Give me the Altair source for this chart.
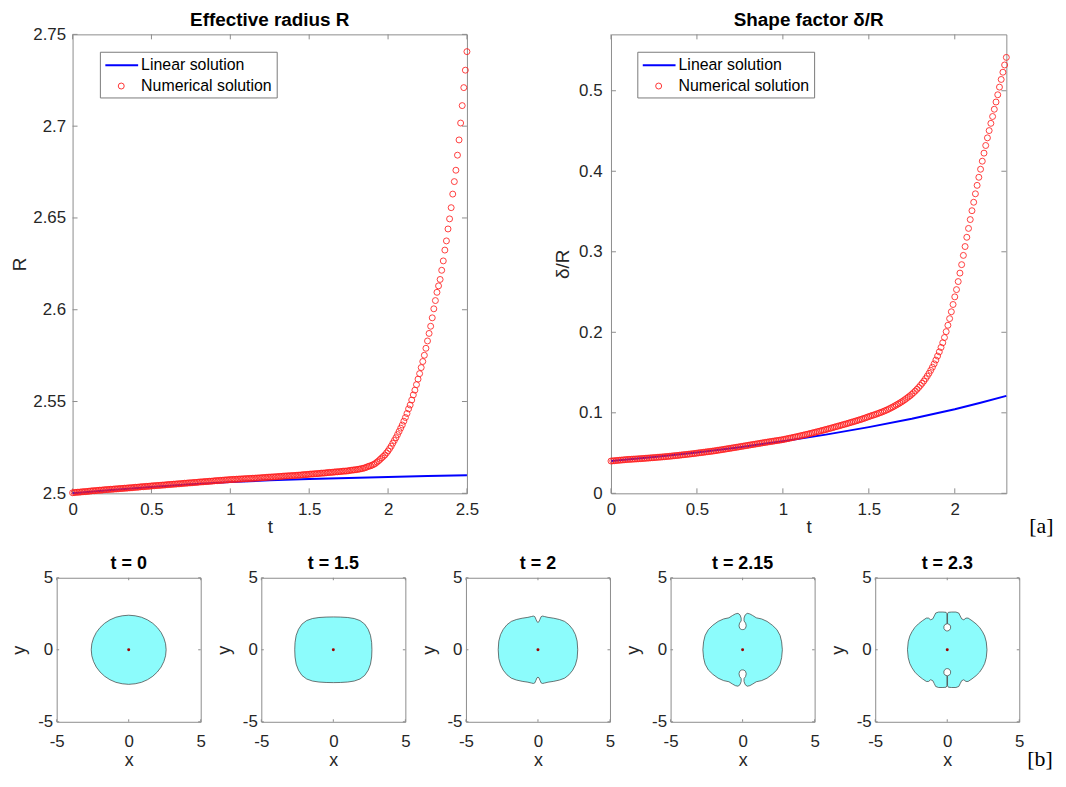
import altair as alt
import pandas as pd

FONT = "Liberation Sans"
SERIF = "Liberation Serif"
FRAME = "#8c8c8c"
TXT = "#262626"
BLUE = "#0000ff"
RED = "#ff1f1f"
CYAN = "#8cfcfc"

# ---------------- data: effective radius R (t step 0.01, 0 .. 2.5) ----------------
R_NUM = [
    2.5003, 2.5004, 2.5005, 2.5006, 2.5006, 2.5007, 2.5008, 2.5009, 2.5009, 2.5010,
    2.5011, 2.5012, 2.5013, 2.5014, 2.5014, 2.5015, 2.5016, 2.5017, 2.5017, 2.5018,
    2.5019, 2.5020, 2.5020, 2.5021, 2.5022, 2.5022, 2.5023, 2.5024, 2.5024, 2.5025,
    2.5026, 2.5026, 2.5027, 2.5028, 2.5028, 2.5029, 2.5030, 2.5030, 2.5031, 2.5032,
    2.5033, 2.5033, 2.5034, 2.5035, 2.5036, 2.5036, 2.5037, 2.5038, 2.5038, 2.5039,
    2.5040, 2.5041, 2.5041, 2.5042, 2.5043, 2.5043, 2.5044, 2.5045, 2.5045, 2.5046,
    2.5047, 2.5048, 2.5048, 2.5049, 2.5050, 2.5050, 2.5051, 2.5052, 2.5052, 2.5053,
    2.5054, 2.5055, 2.5055, 2.5056, 2.5057, 2.5057, 2.5058, 2.5059, 2.5059, 2.5060,
    2.5061, 2.5062, 2.5062, 2.5063, 2.5064, 2.5064, 2.5065, 2.5066, 2.5066, 2.5067,
    2.5068, 2.5069, 2.5069, 2.5070, 2.5071, 2.5071, 2.5072, 2.5073, 2.5073, 2.5074,
    2.5075, 2.5075, 2.5076, 2.5076, 2.5077, 2.5077, 2.5078, 2.5078, 2.5079, 2.5079,
    2.5080, 2.5080, 2.5081, 2.5081, 2.5082, 2.5082, 2.5083, 2.5083, 2.5084, 2.5084,
    2.5085, 2.5086, 2.5086, 2.5087, 2.5088, 2.5088, 2.5089, 2.5089, 2.5090, 2.5090,
    2.5091, 2.5092, 2.5092, 2.5093, 2.5094, 2.5094, 2.5095, 2.5095, 2.5096, 2.5096,
    2.5097, 2.5097, 2.5098, 2.5099, 2.5099, 2.5100, 2.5101, 2.5102, 2.5102, 2.5103,
    2.5104, 2.5105, 2.5105, 2.5106, 2.5107, 2.5107, 2.5108, 2.5109, 2.5110, 2.5110,
    2.5111, 2.5112, 2.5113, 2.5114, 2.5114, 2.5115, 2.5116, 2.5117, 2.5117, 2.5118,
    2.5119, 2.5120, 2.5121, 2.5121, 2.5122, 2.5123, 2.5125, 2.5126, 2.5127, 2.5128,
    2.5129, 2.5131, 2.5132, 2.5134, 2.5136, 2.5138, 2.5141, 2.5145, 2.5148, 2.5150,
    2.5154, 2.5158, 2.5163, 2.5170, 2.5177, 2.5185, 2.5193, 2.5201, 2.5209, 2.5220,
    2.5231, 2.5244, 2.5257, 2.5273, 2.5288, 2.5303, 2.5320, 2.5337, 2.5355, 2.5372,
    2.5393, 2.5413, 2.5435, 2.5460, 2.5481, 2.5508, 2.5536, 2.5562, 2.5592, 2.5622,
    2.5652, 2.5685, 2.5718, 2.5752, 2.5790, 2.5830, 2.5871, 2.5910, 2.5956, 2.6005,
    2.6050, 2.6095, 2.6130, 2.6165, 2.6215, 2.6266, 2.6325, 2.6375, 2.6440, 2.6495,
    2.6556, 2.6630, 2.6698, 2.6760, 2.6842, 2.6925, 2.7017, 2.7112, 2.7210, 2.7305,
    2.7406,
]
R_LIN_T = [0.0, 0.25, 0.5, 0.75, 1.0, 1.25, 1.5, 1.75, 2.0, 2.25, 2.5]
R_LIN = [2.5000, 2.5018, 2.5035, 2.5049, 2.5061, 2.5071, 2.5078, 2.5084, 2.5089, 2.5094, 2.5099]

# ---------------- data: shape factor delta/R (t step 0.01, 0 .. 2.3) ----------------
SF_NUM = [
    0.0401, 0.0403, 0.0405, 0.0407, 0.0409, 0.0411, 0.0413, 0.0415, 0.0417, 0.0419,
    0.0421, 0.0422, 0.0423, 0.0425, 0.0426, 0.0427, 0.0429, 0.0430, 0.0432, 0.0433,
    0.0435, 0.0437, 0.0438, 0.0440, 0.0442, 0.0443, 0.0445, 0.0447, 0.0449, 0.0450,
    0.0452, 0.0454, 0.0456, 0.0458, 0.0460, 0.0462, 0.0465, 0.0467, 0.0469, 0.0471,
    0.0474, 0.0476, 0.0479, 0.0481, 0.0483, 0.0486, 0.0488, 0.0491, 0.0493, 0.0496,
    0.0499, 0.0502, 0.0505, 0.0507, 0.0510, 0.0513, 0.0516, 0.0518, 0.0521, 0.0524,
    0.0527, 0.0530, 0.0534, 0.0537, 0.0540, 0.0544, 0.0547, 0.0551, 0.0554, 0.0558,
    0.0561, 0.0565, 0.0568, 0.0572, 0.0575, 0.0579, 0.0583, 0.0586, 0.0590, 0.0593,
    0.0597, 0.0601, 0.0604, 0.0608, 0.0611, 0.0615, 0.0618, 0.0622, 0.0626, 0.0629,
    0.0633, 0.0636, 0.0640, 0.0643, 0.0646, 0.0650, 0.0653, 0.0656, 0.0660, 0.0663,
    0.0667, 0.0671, 0.0676, 0.0680, 0.0685, 0.0689, 0.0694, 0.0699, 0.0703, 0.0708,
    0.0713, 0.0718, 0.0723, 0.0728, 0.0733, 0.0738, 0.0743, 0.0749, 0.0754, 0.0759,
    0.0765, 0.0770, 0.0776, 0.0781, 0.0787, 0.0793, 0.0798, 0.0804, 0.0810, 0.0816,
    0.0822, 0.0828, 0.0834, 0.0840, 0.0846, 0.0852, 0.0858, 0.0864, 0.0870, 0.0877,
    0.0883, 0.0889, 0.0896, 0.0902, 0.0909, 0.0915, 0.0922, 0.0930, 0.0937, 0.0945,
    0.0953, 0.0960, 0.0967, 0.0974, 0.0981, 0.0989, 0.0997, 0.1005, 0.1013, 0.1022,
    0.1031, 0.1041, 0.1051, 0.1062, 0.1073, 0.1085, 0.1097, 0.1109, 0.1122, 0.1135,
    0.1149, 0.1164, 0.1180, 0.1196, 0.1212, 0.1230, 0.1250, 0.1270, 0.1292, 0.1315,
    0.1340, 0.1366, 0.1394, 0.1424, 0.1456, 0.1490, 0.1527, 0.1566, 0.1608, 0.1655,
    0.1705, 0.1757, 0.1812, 0.1870, 0.1935, 0.2008, 0.2087, 0.2170, 0.2255, 0.2345,
    0.2440, 0.2530, 0.2630, 0.2735, 0.2840, 0.2955, 0.3065, 0.3180, 0.3290, 0.3400,
    0.3510, 0.3615, 0.3720, 0.3825, 0.3925, 0.4025, 0.4125, 0.4225, 0.4320, 0.4415,
    0.4505, 0.4595, 0.4680, 0.4770, 0.4860, 0.4950, 0.5045, 0.5140, 0.5230, 0.5320,
    0.5414,
]
SF_LIN_T = [0.0, 0.25, 0.5, 0.75, 1.0, 1.25, 1.5, 1.75, 2.0, 2.15, 2.3]
SF_LIN = [0.0400, 0.0451, 0.0508, 0.0573, 0.0647, 0.0729, 0.0822, 0.0927, 0.1045, 0.1124, 0.1210]

R_XTICKS = [0, 0.5, 1, 1.5, 2, 2.5]
R_YTICKS = [2.5, 2.55, 2.6, 2.65, 2.7, 2.75]
SF_XTICKS = [0, 0.5, 1, 1.5, 2]
SF_YTICKS = [0, 0.1, 0.2, 0.3, 0.4, 0.5]
SHAPE_TICKS = [-5, 0, 5]

# ---------------- data: droplet outlines (first quadrant, from (x_max,0) to (0,y_top)) ----------------
SHAPE_TITLES = ["t = 0", "t = 1.5", "t = 2", "t = 2.15", "t = 2.3"]
S0_X = [2.60, 2.56, 2.44, 2.25, 1.99, 1.67, 1.30, 0.89, 0.45, 0.00]
S0_Y = [0.00, 0.42, 0.82, 1.20, 1.54, 1.84, 2.08, 2.26, 2.36, 2.40]
S1_X = [2.68, 2.66, 2.58, 2.42, 2.18, 1.85, 1.45, 1.00, 0.50, 0.00]
S1_Y = [0.00, 0.50, 1.00, 1.42, 1.78, 2.03, 2.17, 2.24, 2.27, 2.28]
S2_X = [2.76, 2.72, 2.60, 2.41, 2.15, 1.85, 1.50, 1.10, 0.70, 0.45, 0.32, 0.22, 0.14, 0.07, 0.00]
S2_Y = [0.00, 0.60, 1.05, 1.42, 1.74, 1.97, 2.10, 2.19, 2.25, 2.31, 2.34, 2.30, 2.12, 1.95, 1.90]
S3_X = [2.76, 2.71, 2.60, 2.38, 2.07, 1.70, 1.32, 0.95, 0.70, 0.50, 0.32, 0.18, 0.10, 0.10, 0.21, 0.25, 0.20, 0.09, 0.00]
S3_Y = [0.00, 0.55, 1.00, 1.40, 1.70, 1.97, 2.14, 2.22, 2.38, 2.49, 2.53, 2.42, 2.20, 2.00, 1.85, 1.66, 1.49, 1.41, 1.40]
S4_X = [2.76, 2.71, 2.60, 2.45, 2.25, 2.00, 1.72, 1.45, 1.30, 1.15, 1.00, 0.90, 0.80, 0.60, 0.30, 0.08,
        0.02, 0.02, 0.15, 0.23, 0.23, 0.15, 0.05, 0.00]
S4_Y = [0.00, 0.55, 0.95, 1.25, 1.55, 1.80, 2.02, 2.20, 2.20, 2.08, 2.15, 2.35, 2.55, 2.62, 2.62, 2.60,
        2.50, 1.80, 1.76, 1.64, 1.48, 1.36, 1.31, 1.31]
SHAPES_X = [S0_X, S1_X, S2_X, S3_X, S4_X]
SHAPES_Y = [S0_Y, S1_Y, S2_Y, S3_Y, S4_Y]
CENTER_X = [0.0]
CENTER_Y = [0.0]

ONE = pd.DataFrame({"k": [0]})


def axis(values, title, fmt=None, expr=None, lab_pad=7, title_pad=4, title_size=19):
    kw = dict(values=values, title=title, domain=False, ticks=False, tickSize=0, grid=False,
              labelFont=FONT, labelFontSize=17, labelColor=TXT, labelPadding=lab_pad,
              labelFlush=False, labelOverlap=False, labelBound=False,
              titleFont=FONT, titleFontSize=title_size, titleFontWeight="normal",
              titleColor=TXT, titlePadding=title_pad)
    if fmt:
        kw["format"] = fmt
    if expr:
        kw["labelExpr"] = expr
    return alt.Axis(**kw)


def inward_ticks(X, Y, xfield, yfield, xticks, yticks, W, H, L):
    xt = alt.Chart(pd.DataFrame({xfield: xticks}))
    yt = alt.Chart(pd.DataFrame({yfield: yticks}))
    return [
        xt.mark_rule(color=FRAME, strokeWidth=1).encode(x=X, y=alt.value(H), y2=alt.value(H - L)),
        xt.mark_rule(color=FRAME, strokeWidth=1).encode(x=X, y=alt.value(0), y2=alt.value(L)),
        yt.mark_rule(color=FRAME, strokeWidth=1).encode(y=Y, x=alt.value(0), x2=alt.value(L)),
        yt.mark_rule(color=FRAME, strokeWidth=1).encode(y=Y, x=alt.value(W), x2=alt.value(W - L)),
    ]


def title_text(text, W, y, size):
    return alt.Chart(ONE).mark_text(align="center", baseline="alphabetic", font=FONT, fontSize=size,
                                    fontWeight="bold", color="black").encode(
        x=alt.value(W / 2), y=alt.value(y), text=alt.value(text))


def legend_layers(dx):
    base = alt.Chart(ONE)
    return [
        base.mark_rect(fill="white", stroke="#7a7a7a", strokeWidth=1).encode(
            x=alt.value(28 + dx), x2=alt.value(206 + dx), y=alt.value(18), y2=alt.value(64)),
        base.mark_rule(color=BLUE, strokeWidth=2).encode(
            x=alt.value(33 + dx), x2=alt.value(66 + dx), y=alt.value(31)),
        base.mark_point(shape="circle", color=RED, size=36, strokeWidth=0.9, opacity=1).encode(
            x=alt.value(49 + dx), y=alt.value(52)),
        base.mark_text(align="left", baseline="middle", font=FONT, fontSize=16, color="black").encode(
            x=alt.value(69 + dx), y=alt.value(31), text=alt.value("Linear solution")),
        base.mark_text(align="left", baseline="middle", font=FONT, fontSize=16, color="black").encode(
            x=alt.value(69 + dx), y=alt.value(52), text=alt.value("Numerical solution")),
    ]


def top_chart(title, num_vals, lin_t, lin_vals, xdom, ydom, xticks, yticks, xfmt, yfmt, ytitle,
              W, H, dx, ylab_pad, ytitle_pad, extra=None):
    t_num = [i / 100 for i in range(len(num_vals))]
    X = alt.X("t:Q", scale=alt.Scale(domain=xdom, nice=False, zero=False),
              axis=axis(xticks, "t", fmt=xfmt, lab_pad=8, title_pad=0))
    Y = alt.Y("v:Q", scale=alt.Scale(domain=ydom, nice=False, zero=False),
              axis=axis(yticks, ytitle, fmt=yfmt, lab_pad=ylab_pad, title_pad=ytitle_pad))
    lin = alt.Chart(pd.DataFrame({"t": lin_t, "v": lin_vals})).mark_line(
        color=BLUE, strokeWidth=2).encode(x=X, y=Y)
    num = alt.Chart(pd.DataFrame({"t": t_num, "v": num_vals})).mark_point(
        shape="circle", color=RED, size=36, strokeWidth=0.9, opacity=0.95).encode(x=X, y=Y)
    layers = inward_ticks(X, Y, "t", "v", xticks, yticks, W, H, 5) + [lin, num] + legend_layers(dx)
    layers.append(title_text(title, W, -8.5, 19))
    if extra is not None:
        layers.append(extra)
    return alt.layer(*layers).properties(width=W, height=H)


def outline_df(qx, qy):
    q1 = list(zip(qx, qy))
    q2 = [(-x, y) for x, y in reversed(q1)][1:]
    q3 = [(-x, -y) for x, y in q1][1:]
    q4 = [(x, -y) for x, y in reversed(q1)][1:-1]
    pts = q1 + q2 + q3 + q4
    return pd.DataFrame({"x": [p[0] for p in pts], "y": [p[1] for p in pts], "i": list(range(len(pts)))})


def shape_panel(title, qx, qy, extra=None):
    S = 145
    X = alt.X("x:Q", scale=alt.Scale(domain=[-5, 5], nice=False, zero=False),
              axis=axis(SHAPE_TICKS, "x", expr="'' + datum.value", lab_pad=12, title_pad=2, title_size=18))
    Y = alt.Y("y:Q", scale=alt.Scale(domain=[-5, 5], nice=False, zero=False),
              axis=axis(SHAPE_TICKS, "y", expr="'' + datum.value", lab_pad=4, title_pad=9, title_size=18))
    poly = alt.Chart(outline_df(qx, qy)).mark_line(
        interpolate="linear-closed", fill=CYAN, stroke="#3a3a3a", strokeWidth=0.7).encode(
        x=X, y=Y, order="i:Q")
    dot = alt.Chart(pd.DataFrame({"x": CENTER_X, "y": CENTER_Y})).mark_point(
        filled=True, color="#a00000", size=9, opacity=1).encode(x=X, y=Y)
    layers = inward_ticks(X, Y, "x", "y", SHAPE_TICKS, SHAPE_TICKS, S, S, 2.5) + [poly, dot]
    layers.append(title_text(title, S, -9, 18))
    if extra is not None:
        layers.append(extra)
    return alt.layer(*layers).properties(width=S, height=S)


def spacer():
    return alt.Chart(ONE).mark_point(opacity=0, size=1).encode(
        x=alt.value(0), y=alt.value(0)).properties(
        width=1, height=1, view=alt.ViewBackground(strokeOpacity=0))


label_a = alt.Chart(ONE).mark_text(align="left", baseline="alphabetic", font=SERIF, fontSize=22,
                                   color="black").encode(
    x=alt.value(398 + 23), y=alt.value(462 + 40), text=alt.value("[a]"))
label_b = alt.Chart(ONE).mark_text(align="left", baseline="alphabetic", font=SERIF, fontSize=22,
                                   color="black").encode(
    x=alt.value(145 + 8), y=alt.value(145 + 45), text=alt.value("[b]"))

left = top_chart("Effective radius R", R_NUM, R_LIN_T, R_LIN, [0, 2.5], [2.5, 2.75],
                 R_XTICKS, R_YTICKS, ".1~f", ".2~f", "R", 397, 462, 0, 7, 3)
right = top_chart("Shape factor δ/R", SF_NUM, SF_LIN_T, SF_LIN, [0, 2.3], [0, 0.57],
                  SF_XTICKS, SF_YTICKS, ".1~f", ".1~f", "δ/R", 398, 462, -1, 9, 6, extra=label_a)

panels = []
for k in range(5):
    panels.append(shape_panel(SHAPE_TITLES[k], SHAPES_X[k], SHAPES_Y[k], extra=label_b if k == 4 else None))

top = alt.hconcat(spacer(), alt.hconcat(left, right, spacing=73), spacing=0)
bottom = alt.hconcat(spacer(), alt.hconcat(*panels, spacing=8), spacing=0)
chart = alt.vconcat(top, bottom, spacing=16).properties(
    padding={"left": 0, "top": 0, "right": 4, "bottom": 0}
).configure(background="white").configure_view(stroke=FRAME, strokeWidth=1)

chart.save("out.html", embed_options={"renderer": "svg", "actions": False})
